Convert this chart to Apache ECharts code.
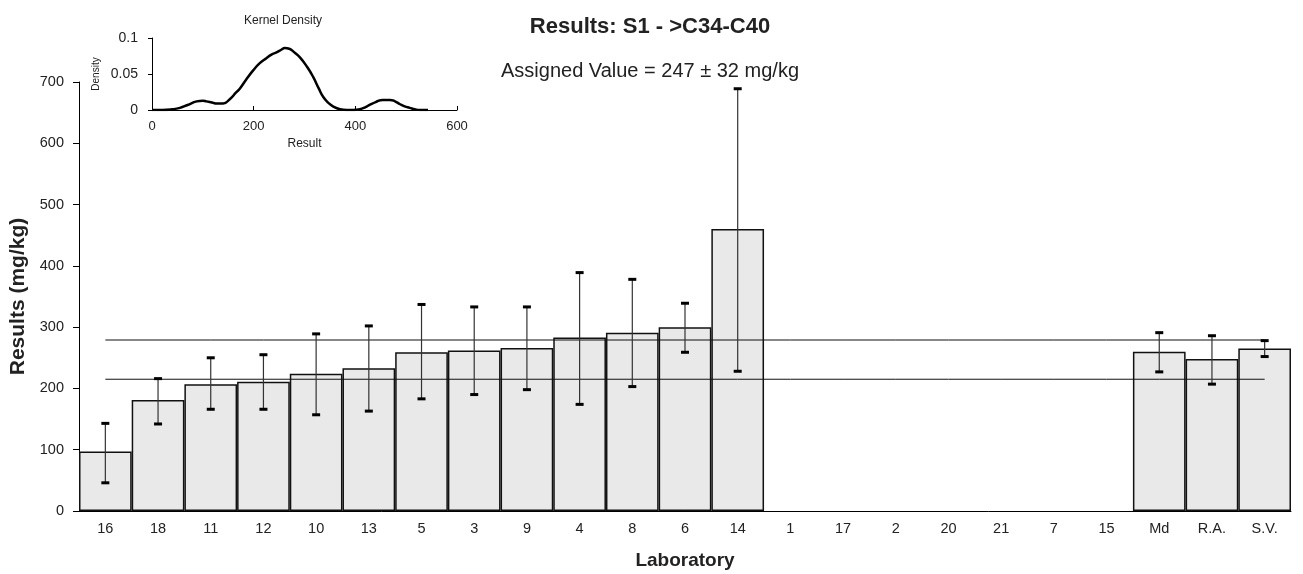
<!DOCTYPE html>
<html>
<head>
<meta charset="utf-8">
<script src="https://cdn.jsdelivr.net/npm/echarts@6/dist/echarts.min.js"></script>
<style>
  html, body { margin: 0; padding: 0; background: #fff; }
  #chart { width: 1303px; height: 574px; }
</style>
</head>
<body>
<div id="chart"></div>
<script>
// laboratories in plotted order
const labs = ['16', '18', '11', '12', '10', '13', '5', '3', '9', '4', '8', '6', '14',
  '1', '17', '2', '20', '21', '7', '15', 'Md', 'R.A.', 'S.V.']
// reported results (mg/kg), null = no result
const results = [97, 181, 207, 211, 224, 233, 259, 262, 266, 283, 291, 300, 460,
  null, null, null, null, null, null, null, 260, 248, 265]
// uncertainty range, low and high ends
const errLow = [46, 142, 166, 166, 157, 163, 183, 190, 198, 174, 203, 259, 228,
  null, null, null, null, null, null, null, 227, 207, 252]
const errHigh = [143, 216, 250, 255, 289, 302, 337, 333, 333, 389, 378, 339, 689,
  null, null, null, null, null, null, null, 291, 286, 278]
// assigned value 247 +/- 32
const upperLimit = 279
const lowerLimit = 215

// kernel density inset
const kdX = [0, 20, 40, 55, 70, 88, 100, 107, 120, 127, 140, 153, 165, 173, 185, 199, 212, 225, 235, 245,
  255, 261, 270, 280, 291, 305, 317, 328, 337, 347, 356, 370, 383, 396, 409, 420, 428, 440, 454, 468,
  478, 488, 497, 507, 517, 527, 543]
const kdY = [0, 0, 0.001, 0.003, 0.007, 0.012, 0.013, 0.012, 0.010, 0.009, 0.009, 0.015, 0.024, 0.030,
  0.042, 0.055, 0.065, 0.072, 0.077, 0.080, 0.084, 0.086, 0.085, 0.080, 0.073, 0.060, 0.046, 0.030,
  0.018, 0.010, 0.005, 0.001, 0, 0, 0.001, 0.004, 0.007, 0.011, 0.014, 0.014, 0.012, 0.008, 0.005,
  0.003, 0.001, 0, 0]

const errData = []
labs.forEach((lab, i) => {
  if (errLow[i] != null) errData.push([i, errLow[i], errHigh[i]])
})

const font = 'Liberation Sans, Arial, sans-serif'
const txt = '#222'

const chart = echarts.init(document.getElementById('chart'))
chart.setOption({
  backgroundColor: '#fff',
  animation: false,
  textStyle: { fontFamily: font },
  title: [
    {
      text: 'Results: S1 - >C34-C40',
      left: 645, top: 11, textAlign: 'center',
      textStyle: { fontSize: 22, fontWeight: 'bold', color: txt, fontFamily: font }
    },
    {
      text: 'Assigned Value = 247 \u00b1 32 mg/kg',
      left: 645, top: 56, textAlign: 'center',
      textStyle: { fontSize: 20, fontWeight: 'normal', color: txt, fontFamily: font }
    },
    {
      text: 'Kernel Density',
      left: 278, top: 10, textAlign: 'center',
      textStyle: { fontSize: 12, fontWeight: 'normal', color: txt, fontFamily: font }
    }
  ],
  grid: [
    { left: 79, right: 12, top: 82, bottom: 63, outerBoundsMode: 'none' },
    { left: 152, top: 38, width: 305, height: 72, outerBoundsMode: 'none' }
  ],
  xAxis: [
    {
      type: 'category',
      data: labs,
      gridIndex: 0,
      name: 'Laboratory',
      nameLocation: 'middle',
      nameGap: 40,
      nameTextStyle: { fontSize: 19, fontWeight: 'bold', color: txt, fontFamily: font },
      axisLine: { lineStyle: { color: '#000', width: 1 } },
      axisTick: { length: 5, lineStyle: { color: '#000' } },
      axisLabel: { fontSize: 14.5, color: txt, margin: 10, fontFamily: font }
    },
    {
      type: 'value',
      gridIndex: 1,
      min: 0, max: 600, interval: 200,
      name: 'Result',
      nameLocation: 'middle',
      nameGap: 28,
      nameTextStyle: { fontSize: 12, color: txt, fontFamily: font },
      splitLine: { show: false },
      axisLine: { lineStyle: { color: '#000' } },
      axisTick: { show: true, length: 4, inside: true, lineStyle: { color: '#000' } },
      axisLabel: { fontSize: 13, color: txt, margin: 10, fontFamily: font }
    }
  ],
  yAxis: [
    {
      type: 'value',
      gridIndex: 0,
      min: 0, max: 700, interval: 100,
      name: 'Results (mg/kg)',
      nameLocation: 'middle',
      nameGap: 48,
      nameTextStyle: { fontSize: 21, fontWeight: 'bold', color: txt, fontFamily: font },
      splitLine: { show: false },
      axisLine: { show: true, lineStyle: { color: '#000' } },
      axisTick: { show: true, length: 6, lineStyle: { color: '#000' } },
      axisLabel: { fontSize: 14.5, color: txt, margin: 15, fontFamily: font }
    },
    {
      type: 'value',
      gridIndex: 1,
      min: 0, max: 0.1, interval: 0.05,
      name: 'Density',
      nameLocation: 'middle',
      nameGap: 51,
      nameTextStyle: { fontSize: 10, color: txt, fontFamily: font },
      splitLine: { show: false },
      axisLine: { show: true, lineStyle: { color: '#000' } },
      axisTick: { show: true, length: 4, lineStyle: { color: '#000' } },
      axisLabel: { fontSize: 14, color: txt, margin: 14, fontFamily: font }
    }
  ],
  series: [
    {
      type: 'bar',
      xAxisIndex: 0, yAxisIndex: 0,
      data: results,
      barCategoryGap: '0%',
      itemStyle: { color: '#e9e9e9', borderColor: '#111', borderWidth: 1.5 },
      z: 1
    },
    {
      type: 'line',
      xAxisIndex: 0, yAxisIndex: 0,
      data: labs.map(() => upperLimit),
      symbol: 'none',
      lineStyle: { color: '#111', width: 1 },
      z: 3
    },
    {
      type: 'line',
      xAxisIndex: 0, yAxisIndex: 0,
      data: labs.map(() => lowerLimit),
      symbol: 'none',
      lineStyle: { color: '#111', width: 1 },
      z: 3
    },
    {
      type: 'custom',
      xAxisIndex: 0, yAxisIndex: 0,
      data: errData,
      z: 4,
      renderItem: (params, api) => {
        const lo = api.coord([api.value(0), api.value(1)])
        const hi = api.coord([api.value(0), api.value(2)])
        const x = lo[0]
        return {
          type: 'group',
          children: [
            { type: 'line', shape: { x1: x, y1: lo[1], x2: x, y2: hi[1] }, style: { stroke: '#333', lineWidth: 1.2 } },
            { type: 'rect', shape: { x: x - 4, y: lo[1] - 1.5, width: 8, height: 3 }, style: { fill: '#000' } },
            { type: 'rect', shape: { x: x - 4, y: hi[1] - 1.5, width: 8, height: 3 }, style: { fill: '#000' } }
          ]
        }
      }
    },
    {
      type: 'line',
      xAxisIndex: 1, yAxisIndex: 1,
      data: kdX.map((x, i) => [x, kdY[i]]),
      smooth: true,
      symbol: 'none',
      lineStyle: { color: '#000', width: 2.5 }
    }
  ]
})
</script>
</body>
</html>
